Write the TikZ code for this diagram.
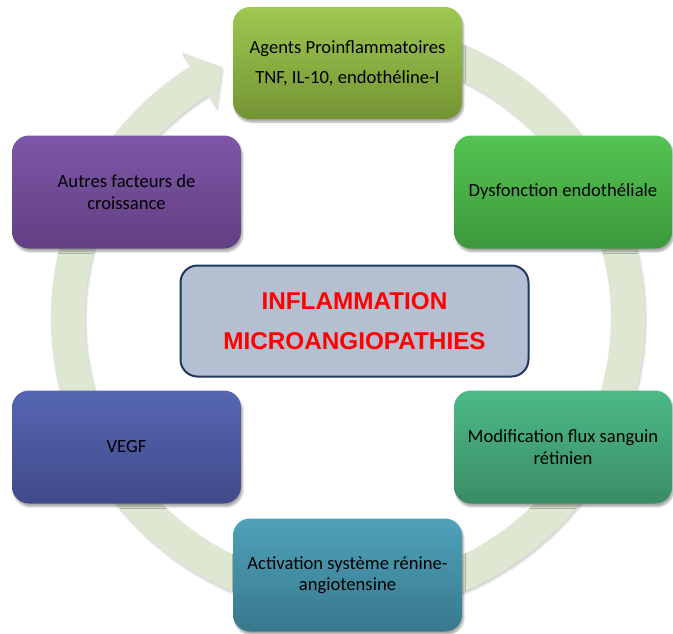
\documentclass[tikz,border=0pt]{standalone}
\usepackage{fontspec}
\setmainfont{Carlito}
\newfontfamily\corefont{Liberation Sans}
\usetikzlibrary{calc,shadows.blur}

\begin{document}
\begin{tikzpicture}[
    x=1pt,
    y=-1pt,
    stage box/.style={rounded corners=17pt, minimum width=229pt, minimum height=113pt,
      align=center, text=black, inner sep=4pt,
      font=\fontsize{18.6}{21.5}\selectfont,
      blur shadow={shadow xshift=1.5pt, shadow yshift=-3pt, shadow blur steps=6, shadow opacity=35}},
    core box/.style={rounded corners=17pt, minimum width=348pt, minimum height=111pt,
      align=center, draw=coreEdge, line width=2pt, fill=coreFill,
      text=coreText, font=\corefont\bfseries\fontsize{24.3}{40}\selectfont},
    cycle ring/.style={fill=ringGreen,
      blur shadow={shadow xshift=1pt, shadow yshift=-2pt, shadow blur steps=5, shadow opacity=20}}
]

\definecolor{ringGreen}{RGB}{221,231,209}
\definecolor{agentsTop}{RGB}{158,200,80}
\definecolor{agentsBot}{RGB}{116,148,52}
\definecolor{dysfTop}{RGB}{84,196,82}
\definecolor{dysfBot}{RGB}{60,152,60}
\definecolor{modifTop}{RGB}{76,186,136}
\definecolor{modifBot}{RGB}{58,140,100}
\definecolor{activTop}{RGB}{78,162,186}
\definecolor{activBot}{RGB}{56,120,140}
\definecolor{vegfTop}{RGB}{86,102,178}
\definecolor{vegfBot}{RGB}{64,74,138}
\definecolor{autresTop}{RGB}{126,86,168}
\definecolor{autresBot}{RGB}{98,64,130}
\definecolor{coreFill}{RGB}{180,192,210}
\definecolor{coreEdge}{RGB}{31,56,96}
\definecolor{coreText}{RGB}{255,0,0}

\useasboundingbox (0,0) rectangle (673,633);

% Cycle ring with its head at the upper left.
\coordinate (ringC) at (348,318);
\path[cycle ring] (ringC) ++(-95:297) arc[start angle=-95, end angle=238, radius=297]
  -- ($(ringC)+(238:313)$) -- ($(ringC)+(243.3:281)$) -- ($(ringC)+(238:248)$)
  -- ($(ringC)+(238:263)$) arc[start angle=238, end angle=-95, radius=263] -- cycle;

% Stages of the cycle.
\node[stage box, top color=agentsTop, bottom color=agentsBot, minimum height=112pt]
  (agents) at (347.5,63) {Agents Proinflammatoires\\[8.5pt]TNF, IL-10, endoth\'eline-I};
\node[stage box, top color=dysfTop, bottom color=dysfBot, minimum width=218pt]
  (dysf) at (563,192) {Dysfonction endoth\'eliale};
\node[stage box, top color=modifTop, bottom color=modifBot, minimum width=218pt]
  (modif) at (563,447) {Modification flux sanguin\\r\'etinien};
\node[stage box, top color=activTop, bottom color=activBot]
  (activ) at (347.5,575) {Activation syst\`eme r\'enine-\\angiotensine};
\node[stage box, top color=vegfTop, bottom color=vegfBot]
  (vegf) at (126.5,447) {VEGF};
\node[stage box, top color=autresTop, bottom color=autresBot]
  (autres) at (126.5,192) {Autres facteurs de\\croissance};

% Central condition.
\node[core box] (core) at (354.5,321) {INFLAMMATION\\MICROANGIOPATHIES};

\end{tikzpicture}
\end{document}
